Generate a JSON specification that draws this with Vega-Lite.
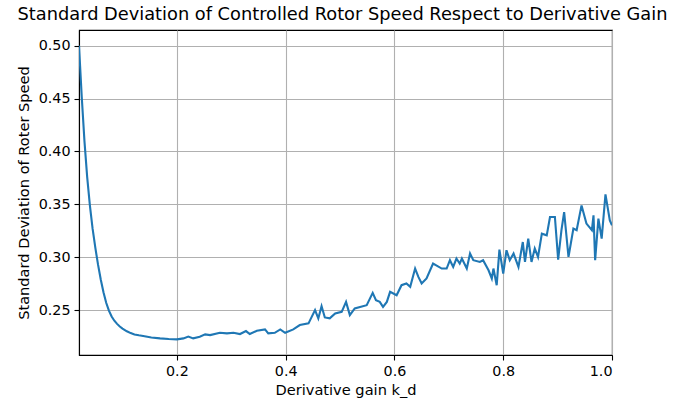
{
  "$schema": "https://vega.github.io/schema/vega-lite/v6.json",
  "autosize": {"type": "none"},
  "padding": {"left": 79, "top": 30, "right": 61, "bottom": 49},
  "width": 533,
  "height": 325,
  "title": {"text": "Standard Deviation of Controlled Rotor Speed Respect to Derivative Gain", "font": "DejaVu Sans", "fontSize": 17.8, "fontWeight": "normal", "color": "black", "anchor": "middle", "offset": 6, "dx": -3},
  "config": {
    "font": "DejaVu Sans",
    "view": {"stroke": "black", "strokeWidth": 1.1},
    "axis": {"labelFont": "DejaVu Sans", "titleFont": "DejaVu Sans", "labelFontSize": 14.3, "titleFontSize": 14.6, "titleFontWeight": "normal", "labelColor": "black", "titleColor": "black", "domainColor": "black", "tickColor": "black", "tickSize": 5, "tickWidth": 1.1, "domainWidth": 1.1, "gridColor": "#b0b0b0", "gridWidth": 1.1, "labelPadding": 4}
  },
  "data": {"values": [
    {"x": 0.020, "y": 0.500},
    {"x": 0.025, "y": 0.452},
    {"x": 0.030, "y": 0.410},
    {"x": 0.035, "y": 0.376},
    {"x": 0.040, "y": 0.349},
    {"x": 0.045, "y": 0.327},
    {"x": 0.050, "y": 0.309},
    {"x": 0.055, "y": 0.293},
    {"x": 0.060, "y": 0.279},
    {"x": 0.065, "y": 0.267},
    {"x": 0.070, "y": 0.257},
    {"x": 0.075, "y": 0.2495},
    {"x": 0.080, "y": 0.2440},
    {"x": 0.085, "y": 0.2400},
    {"x": 0.090, "y": 0.2370},
    {"x": 0.095, "y": 0.2345},
    {"x": 0.100, "y": 0.2325},
    {"x": 0.108, "y": 0.2300},
    {"x": 0.115, "y": 0.2283},
    {"x": 0.122, "y": 0.2270},
    {"x": 0.130, "y": 0.2262},
    {"x": 0.138, "y": 0.2255},
    {"x": 0.153, "y": 0.2242},
    {"x": 0.169, "y": 0.2233},
    {"x": 0.185, "y": 0.2227},
    {"x": 0.200, "y": 0.2224},
    {"x": 0.212, "y": 0.2233},
    {"x": 0.221, "y": 0.2250},
    {"x": 0.230, "y": 0.2233},
    {"x": 0.242, "y": 0.2248},
    {"x": 0.252, "y": 0.2271},
    {"x": 0.261, "y": 0.2264},
    {"x": 0.279, "y": 0.2286},
    {"x": 0.292, "y": 0.2280},
    {"x": 0.304, "y": 0.2286},
    {"x": 0.316, "y": 0.2274},
    {"x": 0.327, "y": 0.2302},
    {"x": 0.334, "y": 0.2274},
    {"x": 0.347, "y": 0.2305},
    {"x": 0.362, "y": 0.2318},
    {"x": 0.368, "y": 0.2280},
    {"x": 0.380, "y": 0.2286},
    {"x": 0.390, "y": 0.2318},
    {"x": 0.399, "y": 0.2286},
    {"x": 0.414, "y": 0.2318},
    {"x": 0.426, "y": 0.2359},
    {"x": 0.442, "y": 0.2375},
    {"x": 0.454, "y": 0.2500},
    {"x": 0.460, "y": 0.2422},
    {"x": 0.466, "y": 0.2538},
    {"x": 0.472, "y": 0.2431},
    {"x": 0.481, "y": 0.2422},
    {"x": 0.491, "y": 0.2469},
    {"x": 0.503, "y": 0.2484},
    {"x": 0.511, "y": 0.2578},
    {"x": 0.518, "y": 0.2453},
    {"x": 0.527, "y": 0.2516},
    {"x": 0.549, "y": 0.2547},
    {"x": 0.560, "y": 0.2663},
    {"x": 0.566, "y": 0.2594},
    {"x": 0.573, "y": 0.2578},
    {"x": 0.579, "y": 0.2531},
    {"x": 0.586, "y": 0.2578},
    {"x": 0.592, "y": 0.2673},
    {"x": 0.604, "y": 0.2641},
    {"x": 0.613, "y": 0.2736},
    {"x": 0.622, "y": 0.2752},
    {"x": 0.629, "y": 0.2720},
    {"x": 0.638, "y": 0.2893},
    {"x": 0.644, "y": 0.2814},
    {"x": 0.650, "y": 0.2752},
    {"x": 0.659, "y": 0.2799},
    {"x": 0.671, "y": 0.2940},
    {"x": 0.687, "y": 0.2893},
    {"x": 0.696, "y": 0.2893},
    {"x": 0.702, "y": 0.2972},
    {"x": 0.708, "y": 0.2908},
    {"x": 0.714, "y": 0.2988},
    {"x": 0.720, "y": 0.2940},
    {"x": 0.724, "y": 0.2988},
    {"x": 0.733, "y": 0.2893},
    {"x": 0.739, "y": 0.3035},
    {"x": 0.745, "y": 0.2972},
    {"x": 0.757, "y": 0.2956},
    {"x": 0.763, "y": 0.2972},
    {"x": 0.773, "y": 0.2877},
    {"x": 0.779, "y": 0.2799},
    {"x": 0.782, "y": 0.2893},
    {"x": 0.788, "y": 0.2736},
    {"x": 0.793, "y": 0.3072},
    {"x": 0.800, "y": 0.2846},
    {"x": 0.806, "y": 0.3066},
    {"x": 0.812, "y": 0.2972},
    {"x": 0.819, "y": 0.3035},
    {"x": 0.828, "y": 0.2908},
    {"x": 0.836, "y": 0.3144},
    {"x": 0.840, "y": 0.2956},
    {"x": 0.846, "y": 0.3176},
    {"x": 0.852, "y": 0.2956},
    {"x": 0.858, "y": 0.3082},
    {"x": 0.864, "y": 0.3003},
    {"x": 0.871, "y": 0.3223},
    {"x": 0.880, "y": 0.3207},
    {"x": 0.886, "y": 0.3380},
    {"x": 0.895, "y": 0.3380},
    {"x": 0.901, "y": 0.2978},
    {"x": 0.907, "y": 0.3255},
    {"x": 0.912, "y": 0.3427},
    {"x": 0.920, "y": 0.3003},
    {"x": 0.929, "y": 0.3271},
    {"x": 0.935, "y": 0.3255},
    {"x": 0.944, "y": 0.3490},
    {"x": 0.953, "y": 0.3318},
    {"x": 0.963, "y": 0.3255},
    {"x": 0.966, "y": 0.3396},
    {"x": 0.969, "y": 0.2972},
    {"x": 0.975, "y": 0.3365},
    {"x": 0.981, "y": 0.3176},
    {"x": 0.988, "y": 0.3594},
    {"x": 0.996, "y": 0.3349},
    {"x": 1.000, "y": 0.3302}
  ]},
  "mark": {"type": "line", "color": "#1f77b4", "strokeWidth": 2.1, "clip": true},
  "encoding": {
    "x": {"field": "x", "type": "quantitative", "title": "Derivative gain k_d",
      "scale": {"domain": [0.02, 1.0], "nice": false, "zero": false},
      "axis": {"values": [0.2, 0.4, 0.6, 0.8, 1.0], "format": ".1f", "titlePadding": 4}},
    "y": {"field": "y", "type": "quantitative", "title": "Standard Deviation of Roter Speed",
      "scale": {"domain": [0.2076, 0.5148], "nice": false, "zero": false},
      "axis": {"values": [0.25, 0.30, 0.35, 0.40, 0.45, 0.50], "format": ".2f", "titlePadding": 7}}
  }
}
